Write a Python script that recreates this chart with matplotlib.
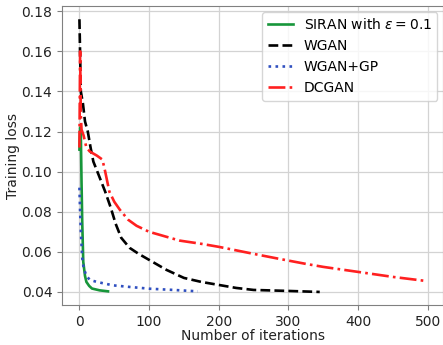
import matplotlib
matplotlib.use("Agg")
import matplotlib.pyplot as plt

siran_x = [0, 1, 2, 3, 4, 5.5, 8, 10, 14, 18, 29, 41]
siran_y = [0.111, 0.122, 0.119, 0.095, 0.075, 0.055, 0.048, 0.045, 0.043, 0.0417, 0.0408, 0.0403]

wgan_x = [0, 2, 5, 8, 12, 16, 20, 28, 37, 45, 52, 60, 72, 85, 100, 125, 150, 175, 200, 225, 250, 300, 345]
wgan_y = [0.176, 0.140, 0.134, 0.125, 0.120, 0.112, 0.105, 0.098, 0.090, 0.082, 0.074, 0.067, 0.062, 0.059,
          0.056, 0.051, 0.047, 0.045, 0.0435, 0.042, 0.041, 0.0405, 0.040]

gp_x = [0, 1, 2, 4, 6, 10, 15, 25, 48, 72, 101, 135, 170]
gp_y = [0.092, 0.080, 0.070, 0.057, 0.052, 0.048, 0.046, 0.045, 0.0433, 0.0425, 0.0416, 0.041, 0.0403]

dcgan_x = [0, 1, 2, 3, 6, 10, 15, 25, 33, 37, 43, 50, 58, 70, 82, 100, 115, 144, 175, 200, 250, 287, 325,
           350, 400, 450, 497]
dcgan_y = [0.112, 0.160, 0.128, 0.121, 0.118, 0.112, 0.110, 0.108, 0.106, 0.100, 0.090, 0.085, 0.081, 0.076,
           0.073, 0.070, 0.0685, 0.0656, 0.064, 0.0625, 0.059, 0.0565, 0.054, 0.0525, 0.050, 0.0475, 0.0455]

labels = [r"SIRAN with $\epsilon = 0.1$", "WGAN", "WGAN+GP", "DCGAN"]
xticks = [0, 100, 200, 300, 400, 500]
yticks = [0.04, 0.06, 0.08, 0.10, 0.12, 0.14, 0.16, 0.18]

fig = plt.figure(figsize=(4.43, 3.45), dpi=100)
ax = fig.add_axes([0.14, 0.116, 0.86, 0.866])

ax.plot(siran_x, siran_y, color="#17963a", lw=1.9, ls="-", label=labels[0])
ax.plot(wgan_x, wgan_y, color="black", lw=1.9, ls="--", label=labels[1])
ax.plot(gp_x, gp_y, color="#3050c0", lw=1.9, ls=":", label=labels[2])
ax.plot(dcgan_x, dcgan_y, color="#ff2020", lw=1.9, ls="-.", label=labels[3])

ax.set_xlim(-25, 522)
ax.set_ylim(0.0335, 0.1825)
ax.set_xticks(xticks)
ax.set_yticks(yticks)
ax.set_yticklabels([f"{v:.2f}" for v in yticks])
ax.grid(True, color="#d3d3d3", lw=0.9)
ax.set_axisbelow(True)
for s in ax.spines.values():
    s.set_color("#808080")
ax.tick_params(colors="#808080", labelcolor="#222222", labelsize=10, length=3.5)
ax.set_xlabel("Number of iterations", fontsize=10, color="#222222", labelpad=0.5)
ax.set_ylabel("Training loss", fontsize=10, color="#222222", labelpad=1)
ax.legend(loc="upper right", fontsize=10, handlelength=1.8, borderaxespad=0.4)

fig.savefig("out.png", dpi=100)
